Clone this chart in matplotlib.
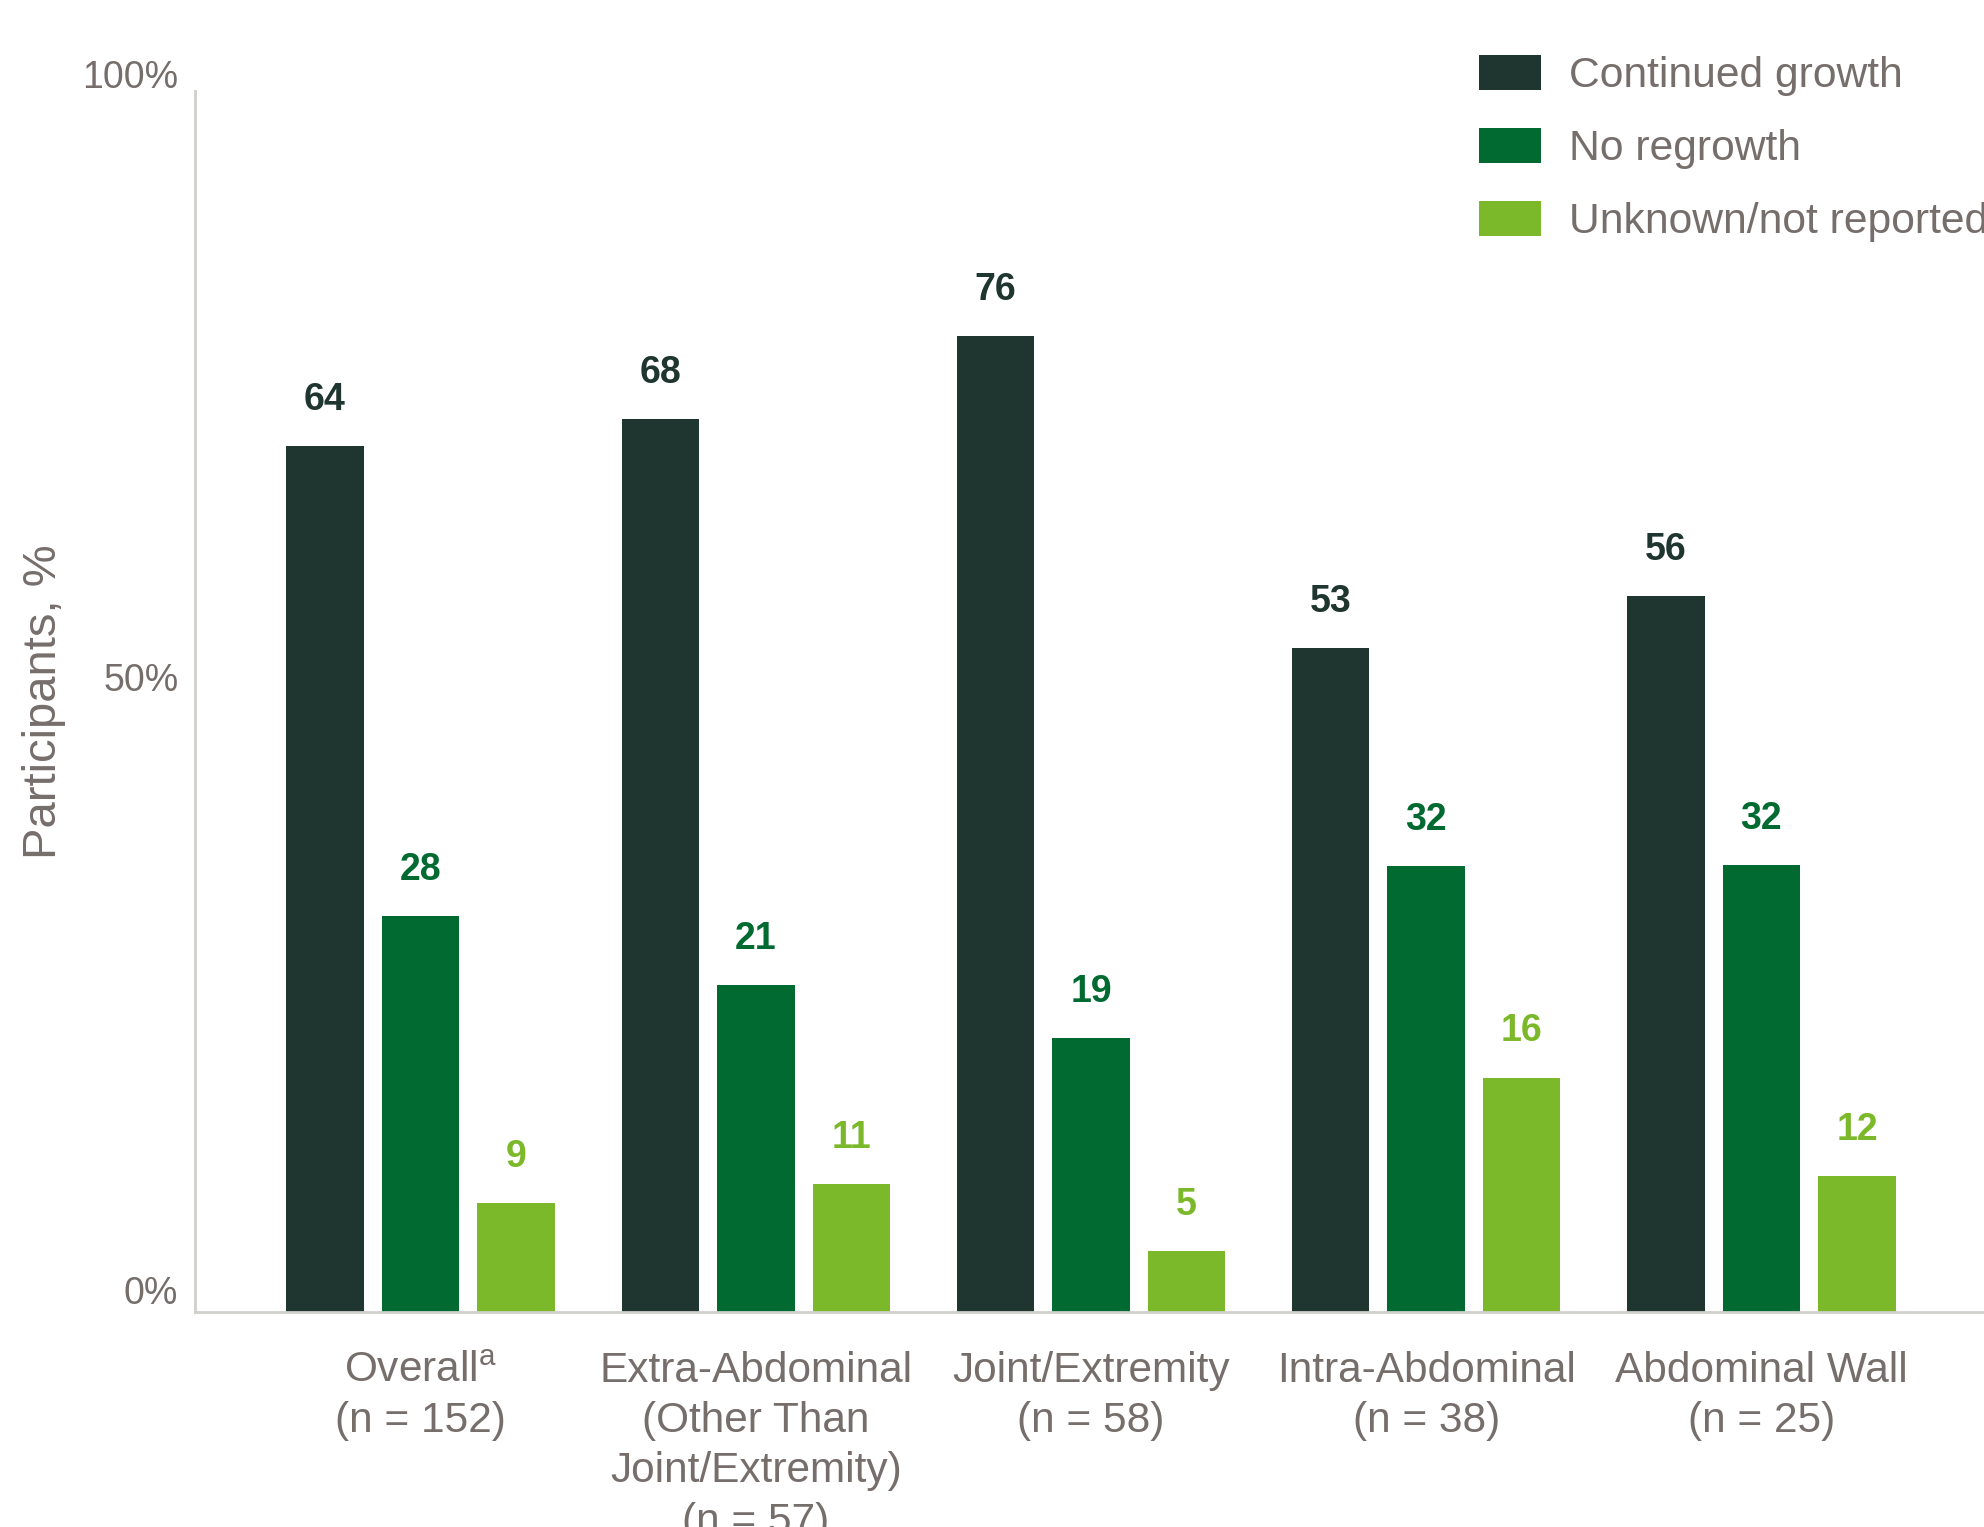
import numpy as np
import matplotlib
matplotlib.use("Agg")
import matplotlib.pyplot as plt
from matplotlib.transforms import ScaledTranslation

plt.rcParams['font.family'] = ['Liberation Sans', 'DejaVu Sans']
plt.rcParams['mathtext.fontset'] = 'custom'
plt.rcParams['mathtext.rm'] = 'Liberation Sans'
plt.rcParams['mathtext.it'] = 'Liberation Sans'

# ---- data ----
categories = ["Overall$^{\\mathrm{a}}$\n(n = 152)",
              "Extra-Abdominal\n(Other Than\nJoint/Extremity)\n(n = 57)",
              "Joint/Extremity\n(n = 58)",
              "Intra-Abdominal\n(n = 38)",
              "Abdominal Wall\n(n = 25)"]
series_names = ["Continued growth", "No regrowth", "Unknown/not reported"]
# bar heights as drawn in the picture (% on the axis)
continued_height = [70.9, 73.1, 79.9, 54.4, 58.6]
noregrowth_height = [32.4, 26.8, 22.4, 36.5, 36.6]
unknown_height = [8.9, 10.5, 5.0, 19.2, 11.1]
# printed value labels
continued_label = [64, 68, 76, 53, 56]
noregrowth_label = [28, 21, 19, 32, 32]
unknown_label = [9, 11, 5, 16, 12]
ytick_values = [0, 50, 100]
ytick_labels = ["0%", "50%", "100%"]

colors = ["#1F352F", "#006A30", "#7BB82A"]
gray = "#766E6B"

W, H = 1984, 1527
dpi = 100
fig = plt.figure(figsize=(W / dpi, H / dpi), dpi=dpi)
ax = fig.add_axes([195 / W, 1 - 1312 / H, 1 - 195 / W, (1312 - 91) / H])

x = np.arange(len(categories))
step = 0.285
width = 0.231
heights = [continued_height, noregrowth_height, unknown_height]
labels = [continued_label, noregrowth_label, unknown_label]
for i in range(3):
    xs = x + (i - 1) * step
    ax.bar(xs, heights[i], width=width, color=colors[i], label=series_names[i])
    for xi, hi, lab in zip(xs, heights[i], labels[i]):
        ax.annotate(str(lab), (xi, hi), xytext=(0, 26), textcoords="offset points",
                    ha="center", va="baseline", fontsize=27, fontweight="bold",
                    color=colors[i])

ax.set_xlim(-0.673, 4.664)
ax.set_ylim(0, 100)

for s in ["top", "right"]:
    ax.spines[s].set_visible(False)
for s in ["left", "bottom"]:
    ax.spines[s].set_color("#CFCFCB")
    ax.spines[s].set_linewidth(2.0)

ax.set_yticks(ytick_values)
ax.set_yticklabels(ytick_labels, fontsize=27, color=gray)
ax.tick_params(axis="y", length=0, pad=12)
for t, dy in zip(ax.get_yticklabels(), [15.8, 17.6, 12.2]):
    t.set_transform(t.get_transform() + ScaledTranslation(0, dy / 72, fig.dpi_scale_trans))

ax.set_xticks(x)
ax.set_xticklabels(categories, fontsize=30.5, color=gray, va="top", linespacing=1.33)
ax.tick_params(axis="x", length=0, pad=28)

fig.text(44 / W, 1 - 702 / H, "Participants, %", rotation=90, fontsize=34,
         color=gray, ha="center", va="center")

leg = ax.legend(loc="upper left", bbox_to_anchor=(1479 / W, 1 - 55 / H),
                bbox_transform=fig.transFigure, frameon=False, fontsize=30.7,
                handlelength=1.46, handleheight=0.9, handletextpad=0.65,
                labelspacing=0.74, borderpad=0, borderaxespad=0)
for t in leg.get_texts():
    t.set_color(gray)

fig.savefig("out.png", dpi=dpi)
